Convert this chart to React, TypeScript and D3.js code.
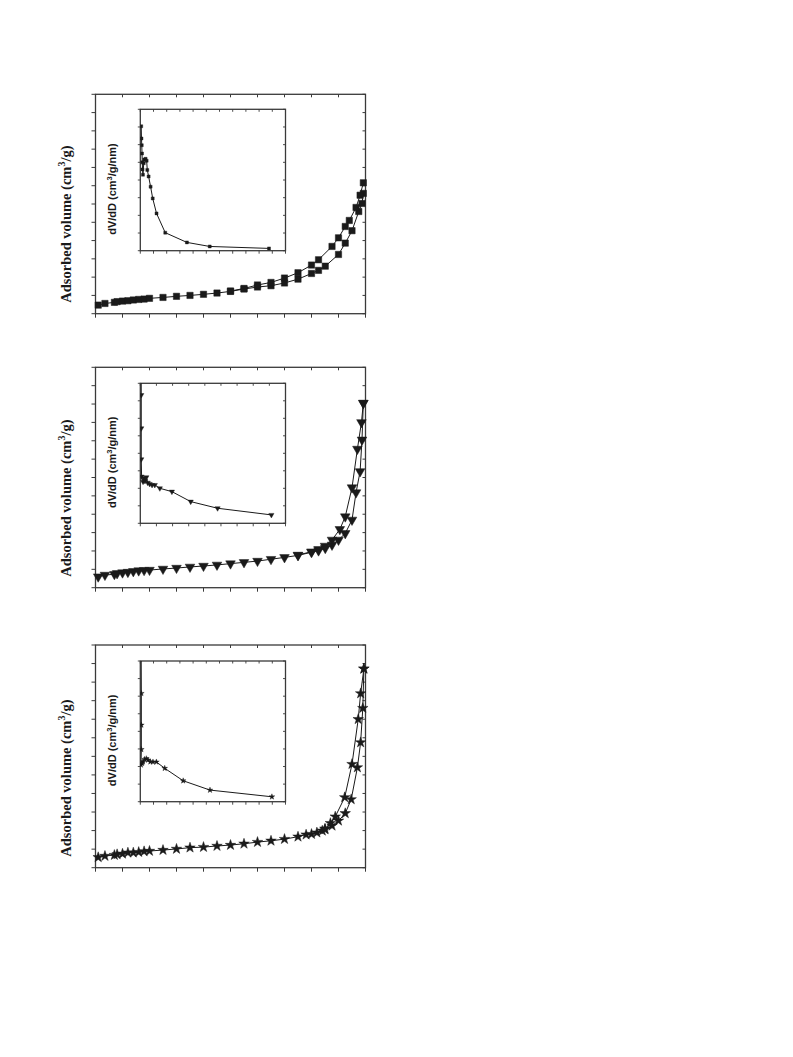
import React from "react";
import * as d3 from "d3";

// ---------- Panel 1 (squares) ----------
const P1_ADS_P = [0.01, 0.035, 0.07, 0.08, 0.10, 0.12, 0.14, 0.16, 0.18, 0.20, 0.25, 0.30, 0.35, 0.40, 0.45, 0.50, 0.55, 0.60, 0.65, 0.70, 0.75, 0.80, 0.826, 0.851, 0.90, 0.925, 0.95, 0.975, 0.987, 0.992];
const P1_ADS_V = [0.47, 0.56, 0.62, 0.66, 0.69, 0.71, 0.75, 0.78, 0.80, 0.84, 0.89, 0.95, 1.00, 1.06, 1.13, 1.22, 1.35, 1.46, 1.53, 1.68, 1.89, 2.20, 2.37, 2.60, 3.24, 3.86, 4.54, 5.59, 6.03, 6.58];
const P1_DES_P = [0.992, 0.98, 0.965, 0.94, 0.925, 0.90, 0.876, 0.826, 0.80, 0.75, 0.70, 0.65, 0.60, 0.55, 0.50];
const P1_DES_V = [7.16, 6.48, 5.81, 5.10, 4.77, 4.15, 3.68, 2.95, 2.66, 2.24, 1.95, 1.71, 1.57, 1.38, 1.24];
const P1_PSD_D = [0.07, 0.09, 0.11, 0.13, 0.15, 0.17, 0.2, 0.26, 0.3, 0.4, 0.48, 0.53, 0.63, 0.78, 0.94, 1.23, 1.89, 3.53, 5.26, 9.75];
const P1_PSD_V = [7.04, 6.35, 5.97, 5.5, 5.0, 4.6, 4.3, 4.95, 5.16, 5.2, 5.09, 4.57, 4.2, 3.62, 2.96, 2.11, 1.02, 0.47, 0.24, 0.13];

// ---------- Panel 2 (down triangles) ----------
const P2_ADS_P = [0.01, 0.035, 0.07, 0.08, 0.10, 0.12, 0.14, 0.16, 0.18, 0.20, 0.25, 0.30, 0.35, 0.40, 0.45, 0.50, 0.55, 0.60, 0.65, 0.70, 0.75, 0.80, 0.826, 0.851, 0.876, 0.90, 0.925, 0.95, 0.965, 0.98, 0.987, 0.992];
const P2_ADS_V = [0.60, 0.69, 0.73, 0.78, 0.82, 0.85, 0.89, 0.93, 0.95, 0.96, 1.02, 1.07, 1.13, 1.18, 1.24, 1.31, 1.38, 1.45, 1.55, 1.65, 1.76, 1.93, 2.02, 2.15, 2.33, 2.60, 2.96, 3.69, 5.18, 6.33, 8.05, 10.05];
const P2_DES_P = [0.992, 0.985, 0.97, 0.95, 0.925, 0.905, 0.876, 0.85, 0.826, 0.80, 0.75];
const P2_DES_V = [10.05, 9.0, 7.55, 5.45, 3.87, 3.18, 2.6, 2.27, 2.09, 1.96, 1.78];
const P2_PSD_D = [0.05, 0.06, 0.06, 0.06, 0.08, 0.17, 0.23, 0.29, 0.375, 0.46, 0.58, 0.73, 0.9, 1.21, 1.96, 3.125, 4.79, 8.125];
const P2_PSD_V = [9.5, 7.33, 5.43, 3.66, 2.67, 2.38, 2.57, 2.42, 2.63, 2.32, 2.25, 2.19, 2.19, 2.0, 1.81, 1.24, 0.86, 0.48];

// ---------- Panel 3 (stars) ----------
const P3_ADS_P = [0.01, 0.035, 0.07, 0.08, 0.10, 0.12, 0.14, 0.16, 0.18, 0.20, 0.25, 0.30, 0.35, 0.40, 0.45, 0.50, 0.55, 0.60, 0.65, 0.70, 0.75, 0.78, 0.80, 0.82, 0.84, 0.85, 0.876, 0.90, 0.925, 0.947, 0.97, 0.982, 0.99, 0.994];
const P3_ADS_V = [0.56, 0.63, 0.68, 0.72, 0.75, 0.81, 0.81, 0.84, 0.88, 0.90, 0.95, 1.01, 1.08, 1.11, 1.17, 1.22, 1.29, 1.38, 1.45, 1.54, 1.67, 1.78, 1.81, 1.89, 1.99, 2.06, 2.26, 2.53, 2.93, 3.68, 5.40, 6.75, 8.6, 10.72];
const P3_DES_P = [0.994, 0.982, 0.973, 0.95, 0.923, 0.888, 0.87, 0.85];
const P3_DES_V = [10.72, 9.39, 8.0, 5.58, 3.79, 2.75, 2.4, 2.1];
const P3_PSD_D = [0.06, 0.08, 0.08, 0.08, 0.05, 0.13, 0.2, 0.33, 0.46, 0.58, 0.76, 0.96, 1.22, 1.85, 3.25, 5.28, 9.97];
const P3_PSD_V = [9.5, 6.16, 4.36, 2.97, 2.09, 2.18, 2.27, 2.41, 2.45, 2.37, 2.27, 2.26, 2.26, 1.9, 1.19, 0.66, 0.28];

const Y_LABEL = "Adsorbed volume (cm";
const INSET_LABEL = "dV/dD (cm";

type Panel = {
  top: number; bottom: number;
  insetTop: number; insetBottom: number; insetXMax: number;
  adsP: number[]; adsV: number[]; desP: number[]; desV: number[];
  psdD: number[]; psdV: number[];
  symbol: d3.SymbolType; rotate: number; bigSize: number; smallSize: number;
};

const panels: Panel[] = [
  { top: 94.3, bottom: 313.7, insetTop: 109.3, insetBottom: 250.7, insetXMax: 11,
    adsP: P1_ADS_P, adsV: P1_ADS_V, desP: P1_DES_P, desV: P1_DES_V, psdD: P1_PSD_D, psdV: P1_PSD_V,
    symbol: d3.symbolSquare, rotate: 0, bigSize: 40, smallSize: 9 },
  { top: 367.3, bottom: 587.7, insetTop: 383.3, insetBottom: 523.3, insetXMax: 9,
    adsP: P2_ADS_P, adsV: P2_ADS_V, desP: P2_DES_P, desV: P2_DES_V, psdD: P2_PSD_D, psdV: P2_PSD_V,
    symbol: d3.symbolTriangle, rotate: 180, bigSize: 40, smallSize: 12 },
  { top: 645, bottom: 867.7, insetTop: 661, insetBottom: 801.7, insetXMax: 11,
    adsP: P3_ADS_P, adsV: P3_ADS_V, desP: P3_DES_P, desV: P3_DES_V, psdD: P3_PSD_D, psdV: P3_PSD_V,
    symbol: d3.symbolStar, rotate: 0, bigSize: 34, smallSize: 10 },
];

const MAIN_L = 95.5, MAIN_R = 365.5;
const INS_L = 140.3, INS_R = 285.5;
const INK = "#1a1a1a";
const FRAME = "#3a3a3a";

function PanelView({ p, idx }: { p: Panel; idx: number }) {
  const x = d3.scaleLinear().domain([0, 1]).range([MAIN_L, MAIN_R]);
  const y = d3.scaleLinear().domain([0, 12]).range([p.bottom, p.top]);
  const ix = d3.scaleLinear().domain([0, p.insetXMax]).range([INS_L, INS_R]);
  const iy = d3.scaleLinear().domain([0, 8]).range([p.insetBottom, p.insetTop]);
  const line = d3.line<[number, number]>().x(d => x(d[0])).y(d => y(d[1]));
  const iline = d3.line<[number, number]>().x(d => ix(d[0])).y(d => iy(d[1]));
  const ads: [number, number][] = p.adsP.map((v, i) => [v, p.adsV[i]]);
  const des: [number, number][] = p.desP.map((v, i) => [v, p.desV[i]]);
  const psd: [number, number][] = p.psdD.map((v, i) => [v, p.psdV[i]]);
  const big = d3.symbol().type(p.symbol).size(p.bigSize)()!;
  const small = d3.symbol().type(p.symbol).size(p.smallSize)()!;
  const xt = d3.range(0, 11).map(i => i / 10);
  const yt = d3.range(0, 13);
  const ixt = d3.range(0, p.insetXMax + 1);
  const iyt = d3.range(0, 9);
  const clipId = `clip-inset-${idx}`;
  const labelStart = p.bottom - 11;
  const insetMid = (p.insetTop + p.insetBottom) / 2 + 9;
  return (
    <g>
      <defs>
        <clipPath id={clipId}>
          <rect x={INS_L} y={p.insetTop} width={INS_R - INS_L} height={p.insetBottom - p.insetTop} />
        </clipPath>
      </defs>
      <rect x={MAIN_L} y={p.top} width={MAIN_R - MAIN_L} height={p.bottom - p.top} fill="none" stroke={FRAME} strokeWidth={1.3} />
      {xt.map((t, i) => (
        <g key={"xt" + i}>
          <line x1={x(t)} x2={x(t)} y1={p.bottom} y2={p.bottom + 4} stroke={FRAME} strokeWidth={1} />
          <line x1={x(t)} x2={x(t)} y1={p.top} y2={p.top + 3} stroke={FRAME} strokeWidth={1} />
        </g>
      ))}
      {yt.map((t, i) => (
        <g key={"yt" + i}>
          <line x1={MAIN_L - 4} x2={MAIN_L} y1={y(t)} y2={y(t)} stroke={FRAME} strokeWidth={1} />
          <line x1={MAIN_R - 3} x2={MAIN_R} y1={y(t)} y2={y(t)} stroke={FRAME} strokeWidth={1} />
        </g>
      ))}
      <path d={line(ads)!} fill="none" stroke={INK} strokeWidth={1} />
      <path d={line(des)!} fill="none" stroke={INK} strokeWidth={1} />
      {[...ads, ...des].map((d, i) => (
        <path key={"m" + i} d={big} transform={`translate(${x(d[0])},${y(d[1])}) rotate(${p.rotate})`} fill={INK} stroke={INK} strokeWidth={0.5} />
      ))}
      <text transform={`translate(71,${labelStart}) rotate(-90)`} fontFamily="Liberation Serif" fontWeight="bold" fontSize={14.5} fill={INK}>
        {Y_LABEL}<tspan dy={-6} fontSize={10}>3</tspan><tspan dy={6}>/g)</tspan>
      </text>
      <rect x={INS_L} y={p.insetTop} width={INS_R - INS_L} height={p.insetBottom - p.insetTop} fill="white" stroke={FRAME} strokeWidth={1.3} />
      {ixt.map((t, i) => (
        <g key={"ixt" + i}>
          <line x1={ix(t)} x2={ix(t)} y1={p.insetBottom} y2={p.insetBottom + 3} stroke={FRAME} strokeWidth={0.9} />
          <line x1={ix(t)} x2={ix(t)} y1={p.insetTop} y2={p.insetTop + 2.5} stroke={FRAME} strokeWidth={0.9} />
        </g>
      ))}
      {iyt.map((t, i) => (
        <g key={"iyt" + i}>
          <line x1={INS_L - 2.5} x2={INS_L} y1={iy(t)} y2={iy(t)} stroke={FRAME} strokeWidth={0.9} />
          <line x1={INS_R - 2.5} x2={INS_R} y1={iy(t)} y2={iy(t)} stroke={FRAME} strokeWidth={0.9} />
        </g>
      ))}
      <g clipPath={`url(#${clipId})`}>
        <path d={iline(psd)!} fill="none" stroke={INK} strokeWidth={1} />
        {psd.map((d, i) => (
          <path key={"s" + i} d={small} transform={`translate(${ix(d[0])},${iy(d[1])}) rotate(${p.rotate})`} fill={INK} stroke={INK} strokeWidth={0.4} />
        ))}
      </g>
      <text transform={`translate(116,${insetMid}) rotate(-90)`} textAnchor="middle" fontFamily="Liberation Sans" fontWeight="bold" fontSize={11} fill={INK}>
        {INSET_LABEL}<tspan dy={-4} fontSize={7.5}>3</tspan><tspan dy={4}>/g/nm)</tspan>
      </text>
    </g>
  );
}

export default function App() {
  return (
    <svg width={793} height={1057} style={{ position: "absolute", left: 0, top: 0, background: "white" }}>
      <rect x={0} y={0} width={793} height={1057} fill="white" />
      {panels.map((p, i) => <PanelView key={i} p={p} idx={i} />)}
    </svg>
  );
}
